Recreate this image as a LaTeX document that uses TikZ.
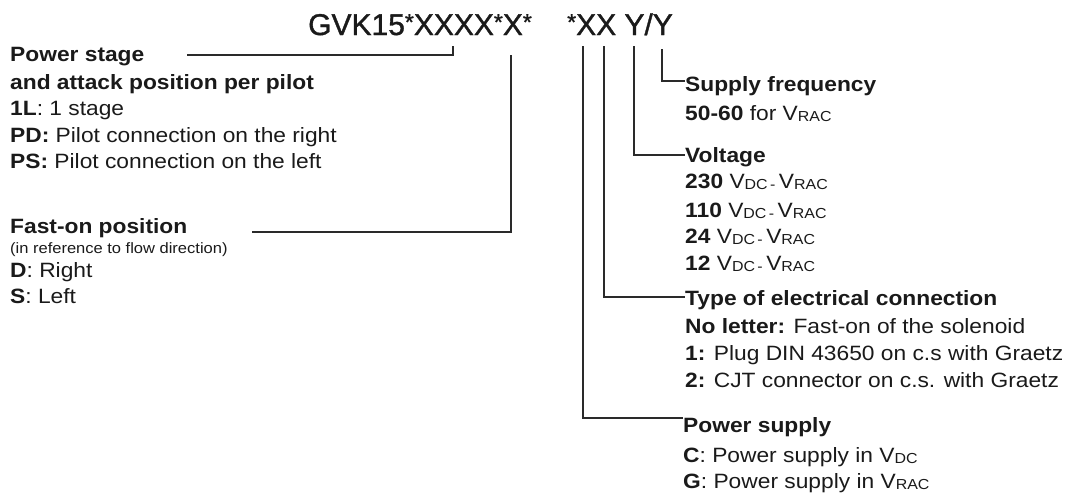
\documentclass[tikz,border=0pt]{standalone}
\usepackage{fontspec}
\setmainfont{Liberation Sans}[FakeStretch=1.1]
\newfontfamily\titlefont{Liberation Sans}[FakeBold=1.2]
\definecolor{ink}{HTML}{1A1A1A}
\definecolor{wire}{HTML}{2A2A2A}
\newcommand\sbx[1]{\raisebox{-1.5pt}{\fontsize{14.5}{15}\selectfont #1}}
\newcommand\vdr{V\sbx{DC\,-}\,V\sbx{RAC}}
\newcommand\tast{\raisebox{5pt}{\fontsize{23}{24}\selectfont *}}
\begin{document}
\begin{tikzpicture}[x=1pt,y=-1pt,
  lbl/.style={anchor=base west,inner sep=0pt,text=ink,font=\fontsize{20.7}{24}\selectfont},
  small/.style={anchor=base west,inner sep=0pt,text=ink,font=\fontsize{15}{16}\selectfont},
  ttl/.style={anchor=base west,inner sep=0pt,text=ink,font=\titlefont\fontsize{30}{32}\selectfont},
  wirestyle/.style={draw=wire,line width=1.8pt}]
\useasboundingbox[fill=white] (0,0) rectangle (1069,496);
% title
\node[ttl] (code1) at (308,35) {GVK15\tast XXXX\tast X\tast};
\node[ttl] (code2) at (567,35) {\tast XX Y/Y};
% left labels
\node[lbl] (ps1) at (10,61) {\textbf{Power stage}};
\node[lbl] (ps2) at (10,89) {\textbf{and attack position per pilot}};
\node[lbl] (ps3) at (10,115) {\textbf{1L}: 1 stage};
\node[lbl] (ps4) at (10,142) {\textbf{PD:} Pilot connection on the right};
\node[lbl] (ps5) at (10,168) {\textbf{PS:} Pilot connection on the left};
\node[lbl] (fo1) at (10,233) {\textbf{Fast-on position}};
\node[small] (fo2) at (10,253) {(in reference to flow direction)};
\node[lbl] (fo3) at (10,277) {\textbf{D}: Right};
\node[lbl] (fo4) at (10,303) {\textbf{S}: Left};
% right labels
\node[lbl] (sf1) at (685,91) {\textbf{Supply frequency}};
\node[lbl] (sf2) at (685,120) {\textbf{50-60} for V\sbx{RAC}};
\node[lbl] (v1) at (685,162) {\textbf{Voltage}};
\node[lbl] (v2) at (685,188) {\textbf{230} \vdr};
\node[lbl] (v3) at (685,217) {\textbf{110} \vdr};
\node[lbl] (v4) at (685,243) {\textbf{24} \vdr};
\node[lbl] (v5) at (685,270) {\textbf{12} \vdr};
\node[lbl] (t1) at (685,305) {\textbf{Type of electrical connection}};
\node[lbl] (t2) at (685,333) {\textbf{No letter:} Fast-on of the solenoid};
\node[lbl] (t3) at (685,360) {\textbf{1:} Plug DIN 43650 on c.s with Graetz};
\node[lbl] (t4) at (685,387) {\textbf{2:} CJT connector on c.s. with Graetz};
\node[lbl] (p1) at (683,432) {\textbf{Power supply}};
\node[lbl] (p2) at (683,462) {\textbf{C}: Power supply in V\sbx{DC}};
\node[lbl] (p3) at (683,488) {\textbf{G}: Power supply in V\sbx{RAC}};
% connector end points
\coordinate (psA) at (187,55);
\coordinate (psB) at (453,46);
\coordinate (foA) at (252,232);
\coordinate (foB) at (511,55);
\coordinate (cP) at (583,46);
\coordinate (cT) at (604,46);
\coordinate (cV) at (634,46);
\coordinate (cF) at (662,49);
% connectors
\draw[wirestyle] (psA) -| (psB);
\draw[wirestyle] (foA) -| (foB);
\draw[wirestyle] (cF) |- ([yshift=10pt]sf1.base west);
\draw[wirestyle] (cV) |- ([yshift=7pt]v1.base west);
\draw[wirestyle] (cT) |- ([yshift=8pt]t1.base west);
\draw[wirestyle] (cP) |- ([yshift=14pt]p1.base west);
\end{tikzpicture}
\end{document}
